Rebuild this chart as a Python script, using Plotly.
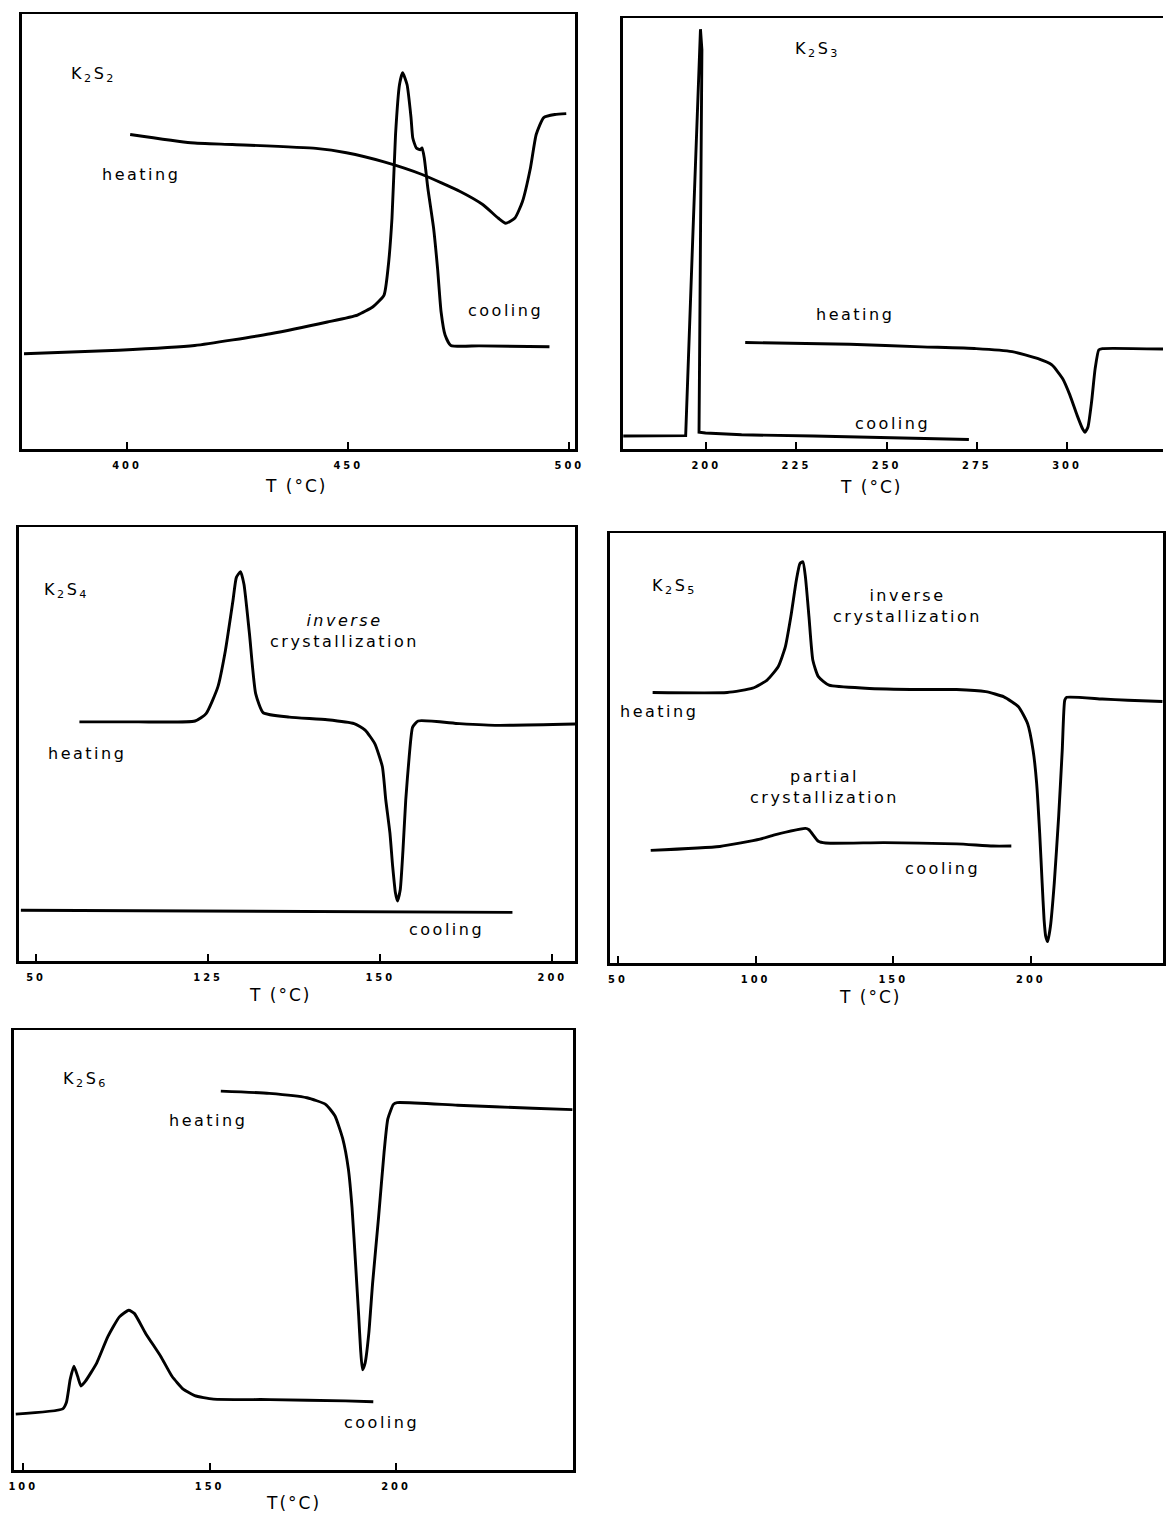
import plotly.graph_objects as go

# ---------------- data (T in °C, signal in arbitrary units 0-100) ----------------
K2S2_heat_T = [400.7, 414.4, 423.8, 442.7, 449.6, 458.1, 466.7, 475.3, 480.4, 483.9, 485.6, 487.7, 489.4, 491.2, 492.5, 494.2, 496.7, 499.3]
K2S2_heat_y = [72.3, 70.4, 70.0, 69.1, 68.1, 66.0, 63.1, 59.2, 56.2, 53.1, 51.9, 53.1, 56.9, 64.6, 72.3, 76.2, 76.9, 77.1]
K2S2_cool_T = [376.7, 398.1, 415.3, 432.4, 445.3, 452.1, 455.6, 458.1, 459.0, 459.9, 460.7, 461.6, 462.3, 463.3, 464.2, 464.6, 465.4, 466.3, 466.7, 467.2, 468.0, 469.3, 470.2, 471.0, 471.9, 473.2, 479.6, 495.5]
K2S2_cool_y = [21.9, 22.7, 23.8, 26.5, 29.2, 30.8, 32.7, 35.4, 41.5, 53.1, 72.3, 83.8, 86.5, 83.8, 76.2, 71.5, 69.2, 68.8, 69.2, 66.9, 60.0, 50.8, 41.5, 31.5, 26.2, 23.8, 23.7, 23.5]

K2S3_heat_T = [210.8, 239.8, 259.8, 274.8, 284.8, 291.8, 295.8, 298.8, 300.8, 302.8, 304.3, 305.0, 305.8, 306.8, 307.8, 308.8, 309.8, 326.6]
K2S3_heat_y = [24.7, 24.3, 23.7, 23.3, 22.6, 21.0, 19.5, 16.3, 12.5, 7.8, 4.7, 3.9, 5.1, 10.9, 18.7, 23.0, 23.3, 23.2]
K2S3_cool_T = [177.0, 193.8, 194.3, 196.3, 197.8, 198.4, 198.8, 198.5, 198.0, 199.8, 209.8, 229.8, 249.8, 272.8]
K2S3_cool_y = [3.0, 3.1, 3.1, 49.8, 84.8, 97.4, 92.6, 49.8, 3.9, 3.7, 3.3, 3.0, 2.7, 2.2]

K2S4_heat_T = [106.3, 114.8, 123.1, 124.7, 126.4, 127.5, 128.6, 129.1, 129.7, 130.2, 131.0, 131.9, 133.0, 136.8, 142.3, 146.2, 147.8, 149.2, 150.3, 150.8, 151.4, 151.8, 152.2, 152.5, 152.9, 153.3, 153.7, 154.2, 154.7, 155.5, 161.5, 167.0, 178.3]
K2S4_heat_y = [55.1, 55.1, 55.3, 57.0, 63.1, 71.5, 83.0, 88.4, 89.7, 86.8, 75.4, 61.6, 57.2, 56.2, 55.6, 54.7, 53.2, 50.1, 44.8, 37.1, 29.5, 21.8, 15.7, 13.8, 16.4, 25.6, 37.1, 47.1, 53.9, 55.3, 54.7, 54.3, 54.6]
K2S4_cool_T = [97.8, 169.2]
K2S4_cool_y = [11.7, 11.2]

K2S5_heat_T = [62.6, 89.7, 98.9, 104.2, 108.2, 110.8, 112.8, 114.8, 116.1, 117.2, 118.1, 119.4, 120.8, 122.8, 126.7, 139.9, 159.8, 173.0, 183.6, 190.2, 195.5, 198.8, 200.8, 202.1, 203.2, 204.1, 204.8, 205.4, 206.1, 207.1, 208.5, 210.1, 211.4, 212.3, 213.0, 225.9, 235.2, 247.8]
K2S5_heat_y = [62.9, 62.9, 63.9, 65.8, 68.9, 73.5, 80.5, 89.0, 92.9, 93.3, 89.8, 80.5, 70.4, 66.6, 64.6, 63.9, 63.6, 63.6, 63.1, 61.9, 59.6, 55.7, 49.5, 41.8, 30.2, 18.6, 10.1, 6.2, 5.0, 8.5, 18.6, 34.1, 49.5, 61.1, 61.8, 61.4, 61.1, 60.8]
K2S5_cool_T = [61.9, 87.0, 101.6, 106.9, 118.1, 119.4, 122.8, 125.4, 146.6, 173.0, 186.2, 192.9]
K2S5_cool_y = [26.2, 27.1, 28.8, 29.8, 31.3, 31.0, 28.3, 27.9, 28.0, 27.7, 27.2, 27.2]

K2S6_heat_T = [153.0, 166.0, 176.1, 181.1, 183.6, 185.7, 187.2, 188.2, 189.2, 190.0, 190.5, 191.0, 191.7, 192.7, 193.7, 195.3, 196.8, 197.8, 199.3, 200.3, 216.5, 236.7, 247.3]
K2S6_heat_y = [86.1, 85.6, 84.6, 83.1, 80.5, 75.3, 68.5, 59.6, 46.1, 34.8, 27.3, 22.8, 24.3, 31.1, 42.3, 57.3, 72.3, 79.8, 83.1, 83.5, 82.9, 82.2, 81.9]
K2S6_cool_T = [98.0, 110.6, 111.6, 112.6, 113.6, 114.6, 115.5, 116.7, 119.7, 122.7, 125.8, 128.3, 129.8, 132.8, 136.9, 139.9, 142.9, 146.0, 151.0, 166.2, 186.4, 193.9]
K2S6_cool_y = [12.7, 13.9, 15.4, 20.6, 23.6, 21.3, 19.1, 20.2, 24.3, 30.3, 34.8, 36.3, 35.6, 31.1, 25.8, 21.3, 18.4, 16.9, 16.1, 16.0, 15.7, 15.5]

# tick labels
K2S2_ticks = [400, 450, 500]
K2S3_ticks = [200, 225, 250, 275, 300]
K2S4_tickvals = [100, 125, 150, 175]
K2S4_ticktext = ["50", "125", "150", "200"]
K2S5_ticks = [50, 100, 150, 200]
K2S6_ticks = [100, 150, 200]

W, H = 1172, 1515

fig = go.Figure()

LINE = dict(color="black", width=2.9)
TXT = "DejaVu Sans, Liberation Sans, sans-serif"
TICKFONT = dict(family="DejaVu Sans Condensed, Liberation Sans Narrow, sans-serif", size=11, color="black", weight="bold")


def sp(text, ls):
    return f'<span style="letter-spacing:{ls}px">{text}</span>'


def px_dom_x(a, b):
    return [max(a / W, 0.0), min(b / W, 1.0)]


def px_dom_y(top, bottom):
    return [max(1 - bottom / H, 0.0), min(1 - top / H, 1.0)]


panels = [
    dict(hT=K2S2_heat_T, hy=K2S2_heat_y, cT=K2S2_cool_T, cy=K2S2_cool_y, cshape="spline",
         xd=(17, 577), yd=(14, 449), xr=[376.2, 501.3], tv=K2S2_ticks, tt=[str(t) for t in K2S2_ticks], mir=True,
         title="T (°C)", tx=0.495, ty=37,
         labels=[("K<sub>2</sub>S<sub>2</sub>", 0.13, 0.86, 16),
                 ("heating", 0.215, 0.63, 16),
                 ("cooling", 0.875, 0.318, 16)]),
    dict(hT=K2S3_heat_T, hy=K2S3_heat_y, cT=K2S3_cool_T, cy=K2S3_cool_y, cshape="linear",
         xd=(625, 1180), yd=(18, 449), xr=[176.8, 326.6], tv=K2S3_ticks, tt=[str(t) for t in K2S3_ticks], mir=False,
         title="T (°C)", tx=0.46, ty=38,
         labels=[("K<sub>2</sub>S<sub>3</sub>", 0.36, 0.926, 16),
                 ("heating", 0.43, 0.311, 16),
                 ("cooling", 0.5, 0.06, 16)]),
    dict(hT=K2S4_heat_T, hy=K2S4_heat_y, cT=K2S4_cool_T, cy=K2S4_cool_y, cshape="linear",
         xd=(14, 577), yd=(527, 961), xr=[97.5, 178.3], tv=K2S4_tickvals, tt=K2S4_ticktext, mir=True,
         title="T (°C)", tx=0.47, ty=34,
         labels=[("K<sub>2</sub>S<sub>4</sub>", 0.085, 0.853, 16),
                 ("<i>inverse</i><br>crystallization", 0.585, 0.76, 16),
                 ("heating", 0.122, 0.478, 16),
                 ("cooling", 0.769, 0.073, 16)]),
    dict(hT=K2S5_heat_T, hy=K2S5_heat_y, cT=K2S5_cool_T, cy=K2S5_cool_y, cshape="spline",
         xd=(612, 1180), yd=(533, 963), xr=[47.0, 248.0], tv=K2S5_ticks, tt=[str(t) for t in K2S5_ticks], mir=True,
         title="T (°C)", tx=0.47, ty=34,
         labels=[("K<sub>2</sub>S<sub>5</sub>", 0.118, 0.875, 16),
                 ("inverse<br>crystallization", 0.539, 0.83, 16),
                 ("heating", 0.089, 0.584, 16),
                 ("partial<br>crystallization", 0.388, 0.41, 16),
                 ("cooling", 0.602, 0.22, 16)]),
    dict(hT=K2S6_heat_T, hy=K2S6_heat_y, cT=K2S6_cool_T, cy=K2S6_cool_y, cshape="spline",
         xd=(9, 575), yd=(1030, 1470), xr=[97.5, 247.5], tv=K2S6_ticks, tt=[str(t) for t in K2S6_ticks], mir=True,
         title="T(°C)", tx=0.5, ty=33,
         labels=[("K<sub>2</sub>S<sub>6</sub>", 0.128, 0.888, 16),
                 ("heating", 0.347, 0.794, 16),
                 ("cooling", 0.657, 0.109, 16)]),
]

annotations = []
for i, p in enumerate(panels, start=1):
    xa = "x" if i == 1 else f"x{i}"
    ya = "y" if i == 1 else f"y{i}"
    fig.add_trace(go.Scatter(x=p["hT"], y=p["hy"], mode="lines",
                             line=dict(**LINE, shape="spline", smoothing=0.5),
                             xaxis=xa, yaxis=ya, showlegend=False, hoverinfo="skip"))
    cl = dict(**LINE, shape=p["cshape"])
    if p["cshape"] == "spline":
        cl["smoothing"] = 0.5
    fig.add_trace(go.Scatter(x=p["cT"], y=p["cy"], mode="lines", line=cl,
                             xaxis=xa, yaxis=ya, showlegend=False, hoverinfo="skip"))
    xkey = "xaxis" if i == 1 else f"xaxis{i}"
    ykey = "yaxis" if i == 1 else f"yaxis{i}"
    fig.update_layout(**{
        xkey: dict(domain=px_dom_x(*p["xd"]), range=p["xr"], anchor=ya,
                   showline=True, linecolor="black", linewidth=2.5, mirror=True,
                   showgrid=False, zeroline=False,
                   ticks="inside", ticklen=7, tickwidth=2, tickcolor="black",
                   tickvals=p["tv"], ticktext=[sp(t, 3) for t in p["tt"]], tickfont=TICKFONT,
                   ticklabelstandoff=4, ticklabeloverflow="allow"),
        ykey: dict(domain=px_dom_y(*p["yd"]), range=[0, 100], anchor=xa,
                   showline=True, linecolor="black", linewidth=2.5, mirror=p["mir"],
                   showgrid=False, zeroline=False, showticklabels=False, ticks=""),
    })
    ph = p["yd"][1] - p["yd"][0]
    annotations.append(dict(
        text=sp(p["title"], 2), x=p["tx"], y=-p["ty"] / ph, xref=f"{xa} domain", yref=f"{ya} domain",
        showarrow=False, xanchor="center", yanchor="middle",
        font=dict(family=TXT, size=17, color="black")))
    for text, fx, fy, fs in p["labels"]:
        annotations.append(dict(
            text=sp(text, 2.5), x=fx, y=fy, xref=f"{xa} domain", yref=f"{ya} domain",
            showarrow=False, xanchor="center", yanchor="middle",
            font=dict(family=TXT, size=fs, color="black")))

fig.update_layout(
    width=W, height=H,
    margin=dict(l=0, r=0, t=0, b=0),
    paper_bgcolor="white", plot_bgcolor="white",
    annotations=annotations,
)

fig.write_html("out.html",
               config={"displayModeBar": False, "staticPlot": True},
               post_script="document.body.style.margin='0';document.body.style.overflow='hidden';")
